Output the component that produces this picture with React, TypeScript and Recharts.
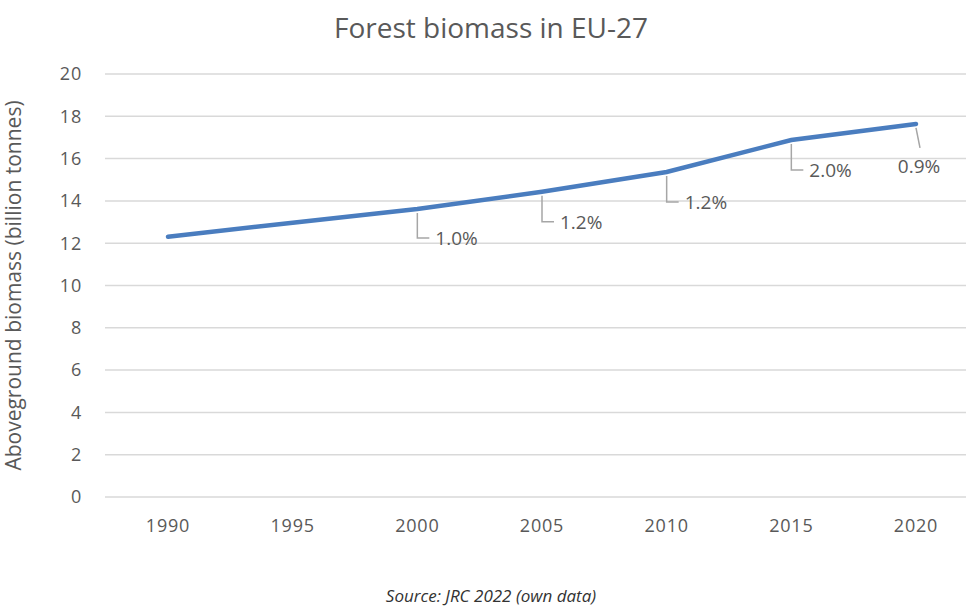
import { CartesianGrid, LabelList, Line, LineChart, XAxis, YAxis } from 'recharts';

const years = ['1990', '1995', '2000', '2005', '2010', '2015', '2020'];
const biomass = [12.3, 12.97, 13.62, 14.43, 15.37, 16.88, 17.64];
const growthLabels = ['', '', '1.0%', '1.2%', '1.2%', '2.0%', '0.9%'];
const yTicks = [0, 2, 4, 6, 8, 10, 12, 14, 16, 18, 20];

const chartData = years.map((year, i) => ({
  year,
  biomass: biomass[i],
  growth: growthLabels[i],
}));

const FONT = '"Open Sans", "Noto Sans", sans-serif';
const TEXT = '#595959';

// leader line + label, Excel style (down then right; last one slanted)
function GrowthLabel(props: any) {
  const { x, y, value, index } = props;
  if (!value) return null;
  const last = index === years.length - 1;
  if (last) {
    return (
      <g>
        <path d={`M${x},${y + 4} L${x + 4},${y + 24}`} stroke="#a6a6a6" strokeWidth={1.5} fill="none" />
        <text x={x + 3} y={y + 49} textAnchor="middle" fontSize={19} fill={TEXT} fontFamily={FONT}>
          {value}
        </text>
      </g>
    );
  }
  const drop = index === 2 ? 29 : 30;
  return (
    <g>
      <path
        d={`M${x},${y + 4} L${x},${y + drop} L${x + 12},${y + drop}`}
        stroke="#a6a6a6"
        strokeWidth={1.5}
        fill="none"
      />
      <text x={x + 18} y={y + drop + 7} fontSize={19} fill={TEXT} fontFamily={FONT}>
        {value}
      </text>
    </g>
  );
}

export default function App() {
  return (
    <div style={{ position: 'absolute', left: 0, top: 0, width: 969, height: 606, background: '#fff' }}>
      <div
        style={{
          position: 'absolute',
          top: 8,
          left: 0,
          width: 982,
          textAlign: 'center',
          fontFamily: FONT,
          fontSize: 28,
          color: TEXT,
        }}
      >
        Forest biomass in EU-27
      </div>
      <LineChart width={969} height={606} data={chartData} margin={{ top: 74, right: 3, bottom: 69, left: 0 }}>
        <CartesianGrid stroke="#d9d9d9" strokeWidth={1.5} vertical={false} />
        <XAxis
          dataKey="year"
          axisLine={false}
          tickLine={false}
          tickSize={0}
          tickMargin={22}
          height={40}
          padding={{ left: 63, right: 50 }}
          tick={{ fontSize: 18, fill: TEXT, fontFamily: FONT, letterSpacing: 0.8 }}
        />
        <YAxis
          domain={[0, 20]}
          ticks={yTicks}
          axisLine={false}
          tickLine={false}
          tickSize={0}
          tickMargin={23}
          width={105}
          tick={{ fontSize: 18, fill: TEXT, fontFamily: FONT, letterSpacing: 0.8 }}
          label={{
            value: 'Aboveground biomass (billion tonnes)',
            angle: -90,
            position: 'insideLeft',
            offset: 14,
            style: { textAnchor: 'middle', fontSize: 21, fill: TEXT, fontFamily: FONT },
          }}
        />
        <Line
          type="linear"
          dataKey="biomass"
          stroke="#4a7dbf"
          strokeWidth={4.5}
          strokeLinecap="round"
          dot={false}
          activeDot={false}
          isAnimationActive={false}
        >
          <LabelList dataKey="growth" content={<GrowthLabel />} />
        </Line>
      </LineChart>
      <div
        style={{
          position: 'absolute',
          top: 584,
          left: 0,
          width: 982,
          textAlign: 'center',
          fontFamily: FONT,
          fontSize: 17,
          fontStyle: 'italic',
          color: '#333',
        }}
      >
        Source: JRC 2022 (own data)
      </div>
    </div>
  );
}
